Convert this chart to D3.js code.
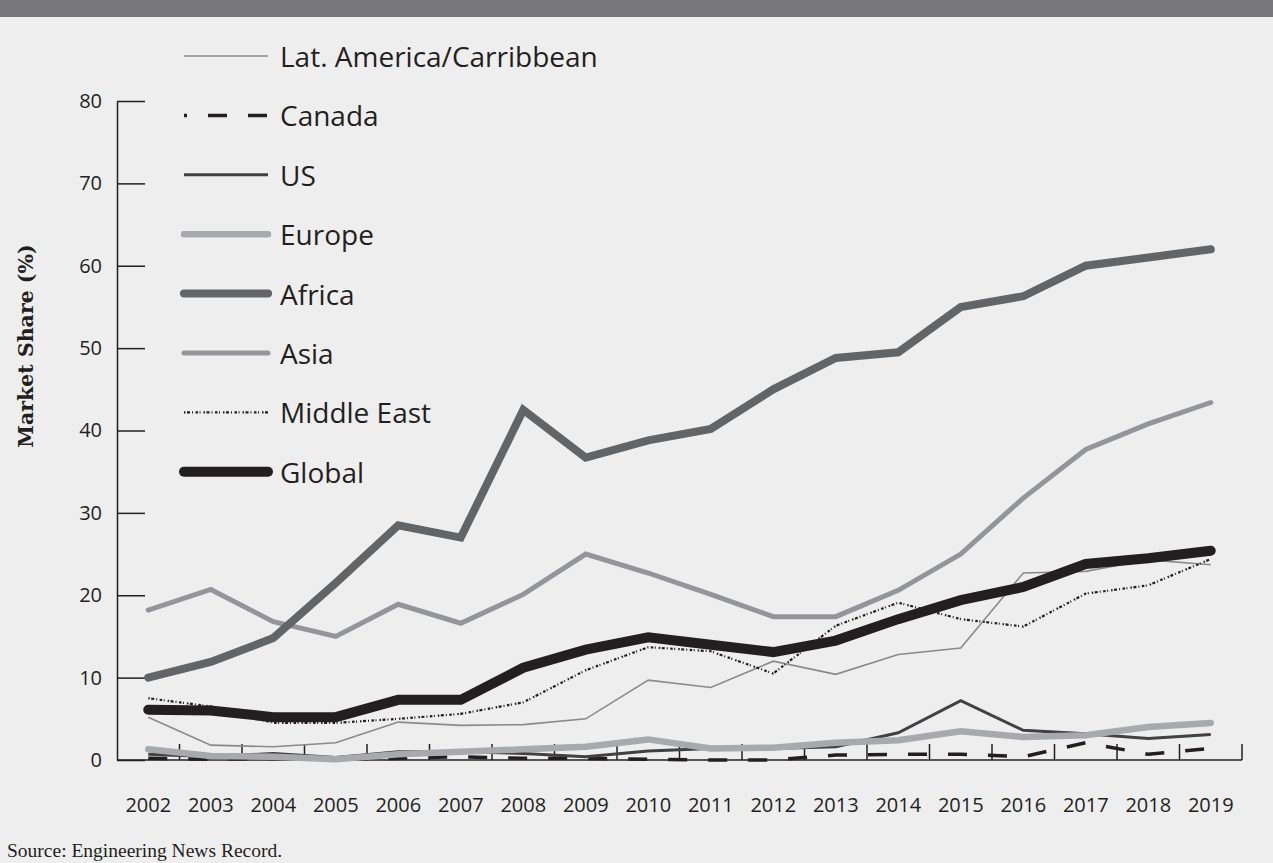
<!DOCTYPE html>
<html>
<head>
<meta charset="utf-8">
<script src="https://cdn.jsdelivr.net/npm/d3@7"></script>
<style>
  html, body { margin: 0; padding: 0; background: #eeeeee; }
  svg { display: block; }
</style>
</head>
<body>
<svg id="chart" width="1273" height="863"></svg>
<script>
// years on the x axis
var years = ["2002","2003","2004","2005","2006","2007","2008","2009","2010",
             "2011","2012","2013","2014","2015","2016","2017","2018","2019"];

// market share (%)
var latAm      = [5.2, 1.8, 1.6, 2.1, 4.6, 4.2, 4.3, 5.0, 9.7, 8.8, 12.0, 10.4, 12.8, 13.6, 22.7, 22.9, 24.3, 23.7];
var canada     = [0.2, 0.1, 0.2, 0.1, 0.2, 0.4, 0.2, 0.2, 0.1, 0.0, 0.0, 0.6, 0.7, 0.7, 0.4, 2.1, 0.7, 1.4];
var us         = [0.7, 0.4, 0.8, 0.3, 1.0, 1.0, 0.8, 0.4, 1.1, 1.4, 1.4, 1.6, 3.3, 7.2, 3.6, 3.2, 2.6, 3.1];
var europe     = [1.3, 0.5, 0.4, 0.1, 0.7, 1.0, 1.3, 1.6, 2.5, 1.4, 1.5, 2.1, 2.4, 3.5, 2.8, 3.0, 4.0, 4.5];
var africa     = [10.0, 11.9, 14.8, 21.5, 28.5, 27.0, 42.5, 36.7, 38.8, 40.2, 45.0, 48.8, 49.5, 55.0, 56.3, 60.0, 61.0, 62.0];
var asia       = [18.2, 20.7, 16.8, 15.0, 18.9, 16.6, 20.1, 25.0, 22.7, 20.1, 17.4, 17.4, 20.6, 25.0, 31.8, 37.7, 40.8, 43.4];
var middleEast = [7.5, 6.5, 4.5, 4.5, 5.0, 5.6, 7.0, 10.9, 13.7, 13.2, 10.5, 16.3, 19.1, 17.1, 16.2, 20.2, 21.2, 24.4];
var global     = [6.1, 6.0, 5.2, 5.2, 7.3, 7.3, 11.2, 13.4, 14.9, 14.0, 13.1, 14.5, 17.1, 19.4, 21.0, 23.8, 24.5, 25.4];

var yTicks = [0, 10, 20, 30, 40, 50, 60, 70, 80];

// series: name, values, style
var series = [
  {name: "Lat. America/Carribbean", values: latAm,      color: "#8a8a8c", width: 1.6, dash: null,  cap: "butt"},
  {name: "Canada",                  values: canada,     color: "#231f20", width: 3.5, dash: "19,21", cap: "butt", offset: 16},
  {name: "US",                      values: us,         color: "#414042", width: 3,   dash: null,  cap: "butt"},
  {name: "Europe",                  values: europe,     color: "#a7a9ac", width: 6.5, dash: null,  cap: "round"},
  {name: "Asia",                    values: asia,       color: "#939598", width: 5,   dash: null,  cap: "round"},
  {name: "Africa",                  values: africa,     color: "#636466", width: 8,   dash: null,  cap: "round"},
  {name: "Middle East",             values: middleEast, color: "#231f20", width: 2.2, dash: "1.5,1.5,3,2,1,2.5,2.5,1.5,1,3", cap: "butt"},
  {name: "Global",                  values: global,     color: "#231f20", width: 10,  dash: null,  cap: "round"}
];
var legendOrder = ["Lat. America/Carribbean","Canada","US","Europe","Africa","Asia","Middle East","Global"];

var svg = d3.select("#chart");
var ink = "#231f20";

// background + top band
svg.append("rect").attr("width", 1273).attr("height", 863).attr("fill", "#eeeeee");
svg.append("rect").attr("width", 1273).attr("height", 17).attr("fill", "#78787c");

var x = d3.scaleBand().domain(years).range([117, 1242]).padding(0);
var y = d3.scaleLinear().domain([0, 80]).range([760, 101]);
var cx = function(i){ return x(years[i]) + x.bandwidth() / 2; };

// y axis
var yAxis = svg.append("g")
  .attr("transform", "translate(117,0)")
  .call(d3.axisLeft(y).tickValues(yTicks).tickSizeInner(-28).tickSizeOuter(0).tickPadding(15));
yAxis.select(".domain").attr("stroke", ink).attr("stroke-width", 1.5);
yAxis.selectAll(".tick line").attr("stroke", ink).attr("stroke-width", 1.5);
yAxis.selectAll("text")
  .attr("fill", ink)
  .style("font-family", "'Open Sans', sans-serif")
  .style("font-size", "20px");

// x axis: labels at band centres, ticks on band edges
var xAxis = svg.append("g")
  .attr("transform", "translate(0,760)")
  .call(d3.axisBottom(x).tickSize(0).tickPadding(38));
xAxis.select(".domain").remove();
xAxis.selectAll("text")
  .attr("fill", ink)
  .style("font-family", "'Open Sans', sans-serif")
  .style("font-size", "20px");

svg.append("line")
  .attr("x1", 117).attr("x2", 1242).attr("y1", 760).attr("y2", 760)
  .attr("stroke", ink).attr("stroke-width", 1.5);

svg.append("g").selectAll("line")
  .data(years.slice(1).concat(["end"]))
  .join("line")
  .attr("x1", function(d, i){ return x.range()[0] + (i + 1) * x.bandwidth(); })
  .attr("x2", function(d, i){ return x.range()[0] + (i + 1) * x.bandwidth(); })
  .attr("y1", 744).attr("y2", 760)
  .attr("stroke", ink).attr("stroke-width", 1.5);

// axis title
svg.append("text")
  .attr("transform", "translate(33,346) rotate(-90)")
  .attr("text-anchor", "middle")
  .attr("fill", ink)
  .style("font-family", "'DejaVu Serif', serif")
  .style("font-weight", "bold")
  .style("font-size", "20.5px")
  .text("Market Share (%)");

// lines
var line = d3.line()
  .x(function(d, i){ return cx(i); })
  .y(function(d){ return y(d); });

svg.append("g").selectAll("path")
  .data(series)
  .join("path")
  .attr("d", function(d){ return line(d.values); })
  .attr("fill", "none")
  .attr("stroke", function(d){ return d.color; })
  .attr("stroke-width", function(d){ return d.width; })
  .attr("stroke-linecap", function(d){ return d.cap; })
  .attr("stroke-dasharray", function(d){ return d.dash; });

// legend
var legendItems = legendOrder.map(function(n){
  return series.find(function(s){ return s.name === n; });
});
var legend = svg.append("g").selectAll("g")
  .data(legendItems)
  .join("g")
  .attr("transform", function(d, i){ return "translate(0," + (56 + i * 59.4) + ")"; });

legend.append("line")
  .attr("x1", 184).attr("x2", 268)
  .attr("stroke", function(d){ return d.color; })
  .attr("stroke-width", function(d){ return d.width; })
  .attr("stroke-linecap", function(d){ return d.cap; })
  .attr("stroke-dasharray", function(d){ return d.dash; })
  .attr("stroke-dashoffset", function(d){ return d.offset || 0; });

legend.append("text")
  .attr("x", 280).attr("y", 11)
  .attr("fill", ink)
  .style("font-family", "'Open Sans', sans-serif")
  .style("font-size", "28px")
  .text(function(d){ return d.name; });

// source note
svg.append("text")
  .attr("x", 7).attr("y", 857)
  .attr("fill", ink)
  .style("font-family", "'Liberation Serif', serif")
  .style("font-size", "19.5px")
  .text("Source: Engineering News Record.");
</script>
</body>
</html>
